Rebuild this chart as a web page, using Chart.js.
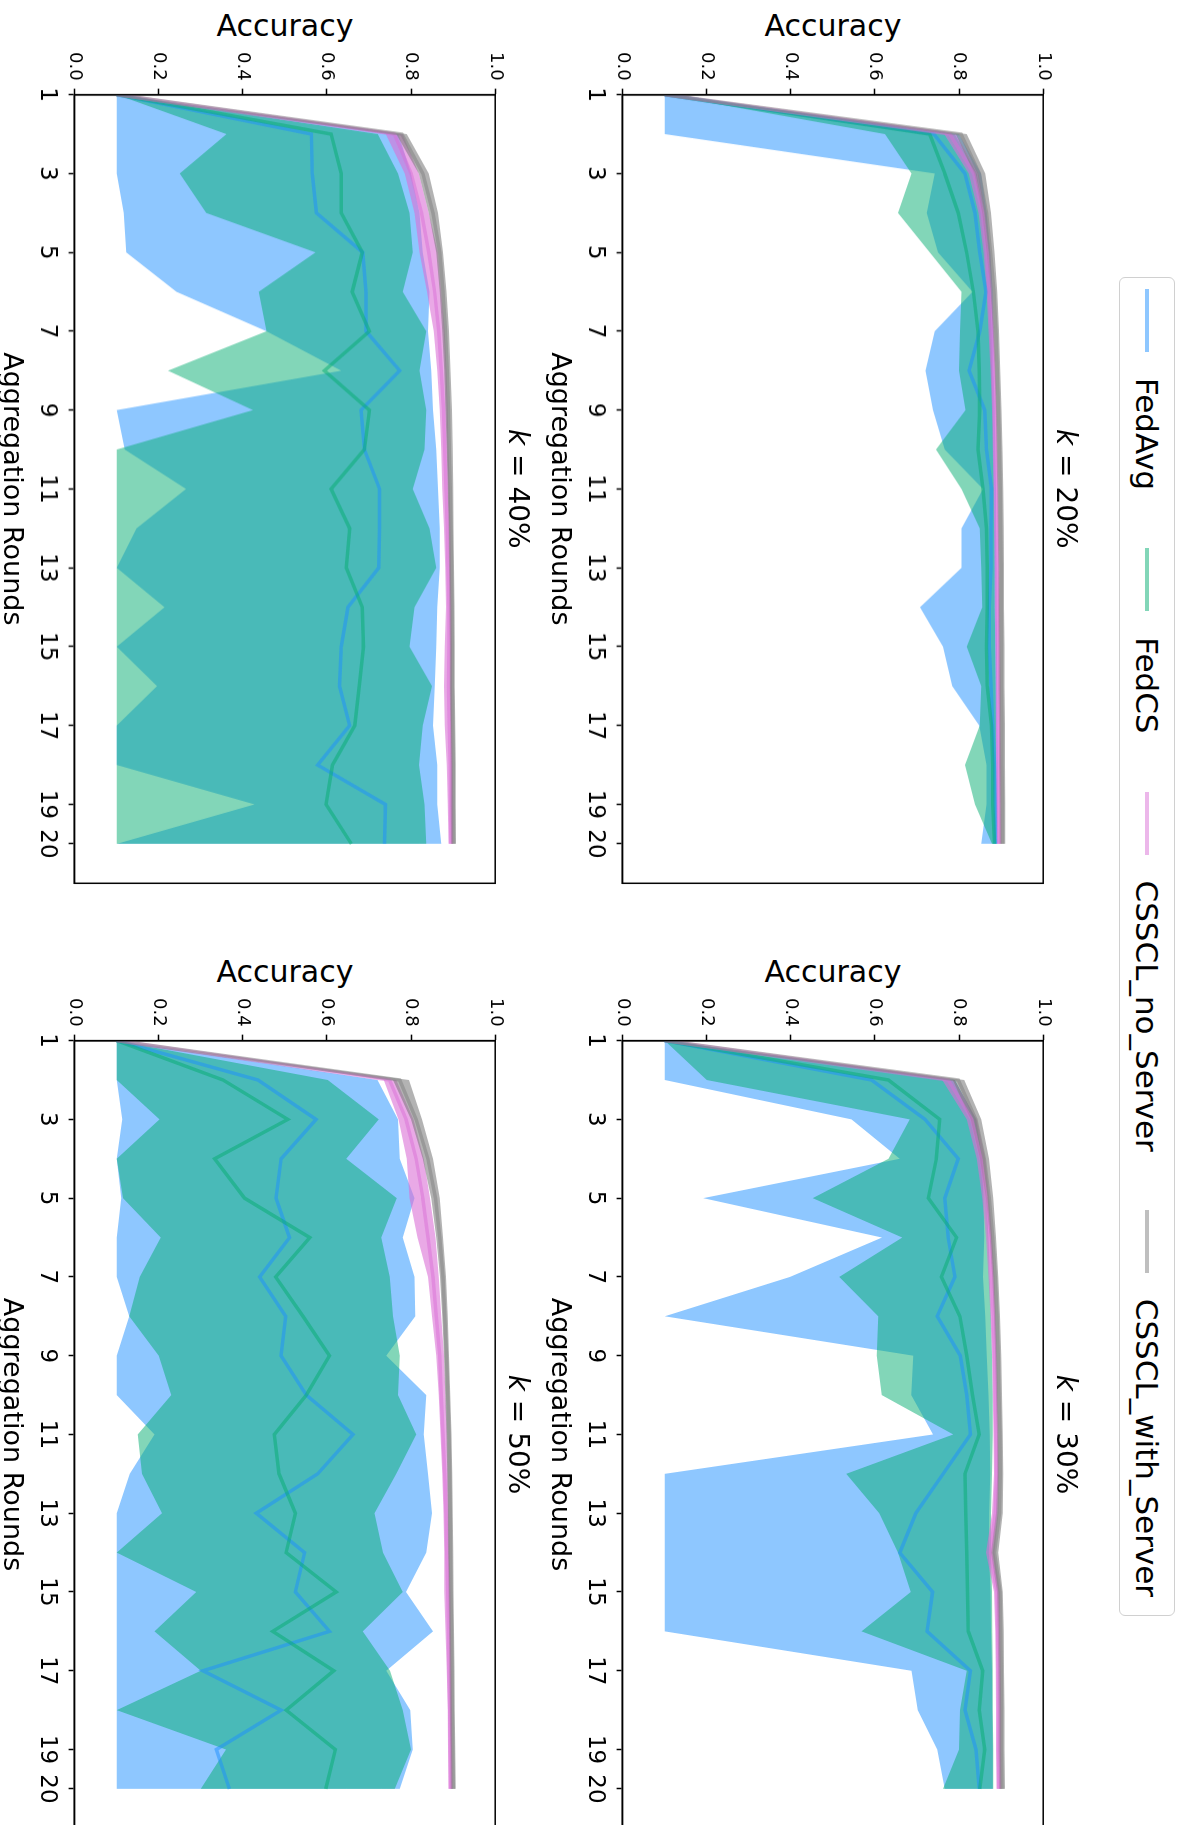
<!DOCTYPE html>
<html>
<head>
<meta charset="utf-8">
<script src="https://cdn.jsdelivr.net/npm/chart.js@4.4.1/dist/chart.umd.min.js"></script>
<style>
  html, body { margin: 0; padding: 0; background: #fff; }
  body { width: 1184px; height: 1825px; overflow: hidden; position: relative; font-family: 'DejaVu Sans', sans-serif; color: #000; }
  /* the figure is drawn landscape and turned a quarter clockwise */
  #fig { position: absolute; left: 0; top: 0; width: 1825px; height: 1184px; overflow: hidden; background: #fff;
         transform-origin: 0 0; transform: translate(1184px, 0) rotate(90deg); }
  .panel { position: absolute; }
  .txt { position: absolute; white-space: nowrap; line-height: 1; transform: translate(-50%, -50%); }
  .ylab { transform: translate(-50%, -50%) rotate(-90deg); }
  #legend { position: absolute; left: 277px; top: 9px; width: 1339px; height: 56px; box-sizing: border-box;
            border: 1.5px solid #d0d0d0; border-radius: 6px; background: rgba(255,255,255,0.8);
            display: flex; align-items: center; padding-left: 11px; font-size: 31px; }
  #legend .item { display: flex; align-items: center; margin-right: 58px; }
  #legend .sw { display: inline-block; width: 63px; height: 4px; margin-right: 26px; }
</style>
</head>
<body>
<div id="fig"><div id="legend"></div></div>
<script>
// Accuracy per aggregation round, four client ratios k.
// Each method: mean curve plus a min/max band.

const ROUNDS = [1, 2, 3, 4, 5, 6, 7, 8, 9, 10, 11, 12, 13, 14, 15, 16, 17, 18, 19, 20];
const X_TICKS = [1, 3, 5, 7, 9, 11, 13, 15, 17, 19, 20];
const Y_TICKS = [0, 0.2, 0.4, 0.6, 0.8, 1.0];
const K_LABELS = ['20%', '30%', '40%', '50%'];
const SERIES_NAMES = ['FedAvg', 'FedCS', 'CSSCL_no_Server', 'CSSCL_with_Server'];
const SERIES_RGB = ['30,144,255', '5,173,114', '218,112,214', '128,128,128'];
const BAND_ALPHA = [0.5, 0.5, 0.6, 0.6];

// k = 20%
const FEDAVG_20_MEAN = [0.100, 0.740, 0.814, 0.838, 0.849, 0.864, 0.849, 0.824, 0.861, 0.865, 0.877, 0.876, 0.876, 0.872, 0.872, 0.876, 0.880, 0.884, 0.886, 0.886];
const FEDAVG_20_LO   = [0.100, 0.100, 0.742, 0.723, 0.750, 0.832, 0.742, 0.720, 0.738, 0.766, 0.857, 0.806, 0.806, 0.707, 0.762, 0.784, 0.848, 0.865, 0.865, 0.853];
const FEDAVG_20_HI   = [0.100, 0.800, 0.852, 0.866, 0.874, 0.880, 0.882, 0.882, 0.885, 0.886, 0.888, 0.888, 0.889, 0.889, 0.890, 0.890, 0.891, 0.892, 0.892, 0.893];
const FEDCS_20_MEAN  = [0.100, 0.730, 0.766, 0.798, 0.818, 0.834, 0.845, 0.848, 0.849, 0.845, 0.857, 0.865, 0.867, 0.867, 0.865, 0.867, 0.877, 0.880, 0.880, 0.884];
const FEDCS_20_LO    = [0.100, 0.624, 0.687, 0.655, 0.730, 0.806, 0.802, 0.800, 0.815, 0.745, 0.806, 0.849, 0.853, 0.855, 0.818, 0.853, 0.849, 0.814, 0.838, 0.878];
const FEDCS_20_HI    = [0.100, 0.790, 0.842, 0.858, 0.868, 0.874, 0.877, 0.878, 0.880, 0.881, 0.883, 0.884, 0.885, 0.885, 0.886, 0.887, 0.888, 0.888, 0.889, 0.889];
const NOS_20_MEAN    = [0.100, 0.778, 0.835, 0.855, 0.866, 0.872, 0.877, 0.881, 0.884, 0.886, 0.888, 0.889, 0.890, 0.891, 0.892, 0.893, 0.893, 0.894, 0.894, 0.895];
const NOS_20_LO      = [0.100, 0.765, 0.823, 0.846, 0.858, 0.865, 0.870, 0.875, 0.878, 0.880, 0.882, 0.883, 0.884, 0.885, 0.886, 0.887, 0.887, 0.888, 0.888, 0.889];
const NOS_20_HI      = [0.100, 0.792, 0.846, 0.864, 0.874, 0.879, 0.884, 0.887, 0.890, 0.892, 0.894, 0.895, 0.896, 0.897, 0.898, 0.899, 0.899, 0.900, 0.900, 0.901];
const WS_20_MEAN     = [0.100, 0.805, 0.848, 0.865, 0.875, 0.883, 0.888, 0.891, 0.894, 0.896, 0.898, 0.899, 0.900, 0.900, 0.901, 0.901, 0.902, 0.902, 0.903, 0.903];
const WS_20_LO       = [0.100, 0.792, 0.836, 0.855, 0.866, 0.875, 0.880, 0.884, 0.887, 0.889, 0.891, 0.892, 0.893, 0.893, 0.894, 0.894, 0.895, 0.895, 0.896, 0.896];
const WS_20_HI       = [0.100, 0.818, 0.862, 0.876, 0.884, 0.891, 0.895, 0.898, 0.901, 0.903, 0.905, 0.906, 0.907, 0.907, 0.908, 0.908, 0.909, 0.909, 0.910, 0.910];

// k = 30%
const FEDAVG_30_MEAN = [0.100, 0.592, 0.719, 0.798, 0.766, 0.774, 0.790, 0.748, 0.803, 0.818, 0.827, 0.762, 0.697, 0.659, 0.737, 0.724, 0.827, 0.814, 0.840, 0.848];
const FEDAVG_30_LO   = [0.100, 0.100, 0.544, 0.659, 0.192, 0.617, 0.398, 0.100, 0.691, 0.686, 0.738, 0.100, 0.100, 0.100, 0.100, 0.100, 0.687, 0.702, 0.748, 0.766];
const FEDAVG_30_HI   = [0.100, 0.790, 0.840, 0.855, 0.858, 0.860, 0.857, 0.862, 0.866, 0.870, 0.873, 0.874, 0.872, 0.871, 0.875, 0.876, 0.878, 0.879, 0.880, 0.880];
const FEDCS_30_MEAN  = [0.100, 0.632, 0.754, 0.746, 0.727, 0.794, 0.758, 0.802, 0.818, 0.832, 0.848, 0.814, 0.816, 0.818, 0.820, 0.822, 0.856, 0.848, 0.861, 0.849];
const FEDCS_30_LO    = [0.100, 0.200, 0.683, 0.632, 0.452, 0.665, 0.515, 0.608, 0.604, 0.616, 0.786, 0.532, 0.610, 0.655, 0.685, 0.568, 0.818, 0.802, 0.800, 0.762];
const FEDCS_30_HI    = [0.100, 0.790, 0.840, 0.855, 0.865, 0.870, 0.873, 0.876, 0.878, 0.880, 0.880, 0.878, 0.876, 0.876, 0.878, 0.879, 0.880, 0.880, 0.881, 0.881];
const NOS_30_MEAN    = [0.100, 0.774, 0.830, 0.852, 0.864, 0.872, 0.877, 0.881, 0.884, 0.886, 0.888, 0.889, 0.886, 0.874, 0.890, 0.892, 0.893, 0.894, 0.894, 0.895];
const NOS_30_LO      = [0.100, 0.760, 0.818, 0.842, 0.855, 0.864, 0.870, 0.875, 0.878, 0.880, 0.882, 0.883, 0.878, 0.864, 0.883, 0.886, 0.887, 0.888, 0.888, 0.889];
const NOS_30_HI      = [0.100, 0.788, 0.842, 0.862, 0.872, 0.879, 0.884, 0.887, 0.890, 0.892, 0.894, 0.895, 0.894, 0.884, 0.897, 0.898, 0.899, 0.900, 0.900, 0.901];
const WS_30_MEAN     = [0.100, 0.798, 0.840, 0.860, 0.872, 0.880, 0.886, 0.890, 0.893, 0.895, 0.897, 0.898, 0.896, 0.884, 0.897, 0.899, 0.900, 0.901, 0.901, 0.902];
const WS_30_LO       = [0.100, 0.785, 0.828, 0.850, 0.864, 0.873, 0.879, 0.883, 0.886, 0.888, 0.890, 0.891, 0.888, 0.876, 0.890, 0.892, 0.893, 0.894, 0.894, 0.895];
const WS_30_HI       = [0.100, 0.812, 0.853, 0.871, 0.881, 0.888, 0.893, 0.897, 0.900, 0.902, 0.904, 0.905, 0.904, 0.893, 0.904, 0.906, 0.907, 0.908, 0.908, 0.909];

// k = 40%
const FEDAVG_40_MEAN = [0.100, 0.563, 0.565, 0.575, 0.685, 0.693, 0.693, 0.773, 0.681, 0.689, 0.725, 0.725, 0.723, 0.650, 0.634, 0.630, 0.654, 0.578, 0.739, 0.737];
const FEDAVG_40_LO   = [0.100, 0.100, 0.100, 0.117, 0.123, 0.242, 0.456, 0.634, 0.100, 0.119, 0.265, 0.147, 0.100, 0.214, 0.100, 0.196, 0.100, 0.100, 0.428, 0.100];
const FEDAVG_40_HI   = [0.100, 0.770, 0.800, 0.820, 0.828, 0.844, 0.840, 0.848, 0.852, 0.860, 0.864, 0.868, 0.868, 0.862, 0.860, 0.856, 0.852, 0.862, 0.862, 0.872];
const FEDCS_40_MEAN  = [0.100, 0.610, 0.634, 0.634, 0.684, 0.660, 0.701, 0.594, 0.701, 0.689, 0.610, 0.654, 0.646, 0.684, 0.687, 0.677, 0.666, 0.613, 0.598, 0.658];
const FEDCS_40_LO    = [0.100, 0.361, 0.250, 0.313, 0.573, 0.438, 0.456, 0.222, 0.424, 0.100, 0.100, 0.100, 0.100, 0.100, 0.100, 0.100, 0.100, 0.100, 0.100, 0.100];
const FEDCS_40_HI    = [0.100, 0.721, 0.769, 0.796, 0.804, 0.780, 0.836, 0.820, 0.836, 0.832, 0.804, 0.844, 0.860, 0.808, 0.796, 0.850, 0.828, 0.819, 0.832, 0.836];
const NOS_40_MEAN    = [0.100, 0.760, 0.800, 0.825, 0.842, 0.856, 0.866, 0.872, 0.877, 0.880, 0.883, 0.886, 0.888, 0.890, 0.890, 0.889, 0.891, 0.893, 0.894, 0.895];
const NOS_40_LO      = [0.100, 0.740, 0.785, 0.808, 0.820, 0.838, 0.854, 0.862, 0.868, 0.872, 0.874, 0.878, 0.881, 0.883, 0.880, 0.878, 0.880, 0.885, 0.887, 0.889];
const NOS_40_HI      = [0.100, 0.780, 0.818, 0.842, 0.864, 0.872, 0.880, 0.884, 0.887, 0.889, 0.892, 0.894, 0.895, 0.896, 0.897, 0.897, 0.898, 0.899, 0.900, 0.900];
const WS_40_MEAN     = [0.100, 0.778, 0.828, 0.852, 0.868, 0.876, 0.882, 0.886, 0.889, 0.891, 0.893, 0.895, 0.896, 0.897, 0.898, 0.898, 0.899, 0.900, 0.900, 0.901];
const WS_40_LO       = [0.100, 0.765, 0.818, 0.842, 0.860, 0.868, 0.874, 0.879, 0.882, 0.885, 0.887, 0.889, 0.890, 0.891, 0.892, 0.892, 0.893, 0.894, 0.894, 0.895];
const WS_40_HI       = [0.100, 0.790, 0.842, 0.864, 0.876, 0.884, 0.890, 0.894, 0.897, 0.899, 0.900, 0.901, 0.902, 0.903, 0.904, 0.904, 0.905, 0.906, 0.906, 0.907];

// k = 50%
const FEDAVG_50_MEAN = [0.100, 0.436, 0.574, 0.491, 0.479, 0.511, 0.440, 0.502, 0.491, 0.551, 0.662, 0.578, 0.432, 0.547, 0.525, 0.606, 0.305, 0.491, 0.337, 0.368];
const FEDAVG_50_LO   = [0.100, 0.100, 0.113, 0.100, 0.111, 0.100, 0.100, 0.130, 0.100, 0.100, 0.190, 0.131, 0.100, 0.100, 0.100, 0.100, 0.100, 0.100, 0.100, 0.100];
const FEDAVG_50_HI   = [0.100, 0.720, 0.769, 0.773, 0.808, 0.780, 0.808, 0.810, 0.741, 0.836, 0.830, 0.840, 0.850, 0.836, 0.788, 0.852, 0.741, 0.798, 0.804, 0.773];
const FEDCS_50_MEAN  = [0.100, 0.353, 0.507, 0.333, 0.404, 0.559, 0.478, 0.543, 0.606, 0.551, 0.475, 0.486, 0.525, 0.503, 0.622, 0.471, 0.616, 0.503, 0.620, 0.597];
const FEDCS_50_LO    = [0.100, 0.100, 0.202, 0.100, 0.115, 0.205, 0.155, 0.130, 0.200, 0.230, 0.150, 0.160, 0.208, 0.100, 0.289, 0.190, 0.300, 0.100, 0.360, 0.300];
const FEDCS_50_HI    = [0.100, 0.602, 0.723, 0.646, 0.766, 0.729, 0.749, 0.757, 0.773, 0.769, 0.812, 0.765, 0.713, 0.733, 0.780, 0.685, 0.750, 0.780, 0.800, 0.761];
const NOS_50_MEAN    = [0.100, 0.749, 0.788, 0.812, 0.828, 0.840, 0.852, 0.860, 0.868, 0.872, 0.876, 0.880, 0.883, 0.885, 0.887, 0.889, 0.890, 0.892, 0.893, 0.894];
const NOS_50_LO      = [0.100, 0.735, 0.770, 0.790, 0.796, 0.815, 0.840, 0.850, 0.860, 0.866, 0.870, 0.874, 0.877, 0.879, 0.879, 0.882, 0.885, 0.887, 0.888, 0.889];
const NOS_50_HI      = [0.100, 0.765, 0.806, 0.830, 0.845, 0.858, 0.866, 0.872, 0.878, 0.882, 0.886, 0.888, 0.890, 0.892, 0.894, 0.895, 0.896, 0.897, 0.898, 0.899];
const WS_50_MEAN     = [0.100, 0.773, 0.812, 0.840, 0.858, 0.868, 0.876, 0.880, 0.884, 0.887, 0.890, 0.892, 0.893, 0.894, 0.895, 0.896, 0.897, 0.898, 0.899, 0.900];
const WS_50_LO       = [0.100, 0.757, 0.800, 0.828, 0.848, 0.860, 0.869, 0.874, 0.878, 0.881, 0.884, 0.886, 0.887, 0.888, 0.889, 0.890, 0.891, 0.892, 0.893, 0.894];
const WS_50_HI       = [0.100, 0.795, 0.826, 0.852, 0.868, 0.876, 0.883, 0.887, 0.890, 0.893, 0.896, 0.898, 0.899, 0.900, 0.901, 0.902, 0.903, 0.904, 0.905, 0.906];

// [mean, lo, hi] per method, per panel
const PANEL_DATA = [
  [[FEDAVG_20_MEAN, FEDAVG_20_LO, FEDAVG_20_HI], [FEDCS_20_MEAN, FEDCS_20_LO, FEDCS_20_HI], [NOS_20_MEAN, NOS_20_LO, NOS_20_HI], [WS_20_MEAN, WS_20_LO, WS_20_HI]],
  [[FEDAVG_30_MEAN, FEDAVG_30_LO, FEDAVG_30_HI], [FEDCS_30_MEAN, FEDCS_30_LO, FEDCS_30_HI], [NOS_30_MEAN, NOS_30_LO, NOS_30_HI], [WS_30_MEAN, WS_30_LO, WS_30_HI]],
  [[FEDAVG_40_MEAN, FEDAVG_40_LO, FEDAVG_40_HI], [FEDCS_40_MEAN, FEDCS_40_LO, FEDCS_40_HI], [NOS_40_MEAN, NOS_40_LO, NOS_40_HI], [WS_40_MEAN, WS_40_LO, WS_40_HI]],
  [[FEDAVG_50_MEAN, FEDAVG_50_LO, FEDAVG_50_HI], [FEDCS_50_MEAN, FEDCS_50_LO, FEDCS_50_HI], [NOS_50_MEAN, NOS_50_LO, NOS_50_HI], [WS_50_MEAN, WS_50_LO, WS_50_HI]],
];

// plot-area boxes in the landscape figure
const AREA_W = 787.7, AREA_H = 420.6;
const AREAS = [
  { left: 95, top: 140.7 }, { left: 1040.7, top: 140.7 },
  { left: 95, top: 688.3 }, { left: 1040.7, top: 688.3 },
];

Chart.defaults.font.family = "'DejaVu Sans', sans-serif";
Chart.defaults.color = '#000';

const fig = document.getElementById('fig');

const frame = {
  id: 'frame',
  afterDatasetsDraw(chart) {
    const { ctx, chartArea: a } = chart;
    ctx.save();
    ctx.strokeStyle = '#000';
    ctx.lineWidth = 1.5;
    ctx.strokeRect(a.left, a.top, a.right - a.left, a.bottom - a.top);
    ctx.restore();
  },
};

function pts(arr) { return ROUNDS.map((r, i) => ({ x: r, y: arr[i] })); }
function rgba(rgb, a) { return `rgba(${rgb},${a})`; }

function addText(html, x, y, size, cls) {
  const d = document.createElement('div');
  d.className = 'txt' + (cls ? ' ' + cls : '');
  d.style.left = x + 'px';
  d.style.top = y + 'px';
  d.style.fontSize = size + 'px';
  d.innerHTML = html;
  fig.appendChild(d);
}

function axisOpts(ticks, fontSize, fmt) {
  return {
    afterBuildTicks: s => { s.ticks = ticks.map(v => ({ value: v })); },
    ticks: { autoSkip: false, maxRotation: 0, color: '#000', font: { size: fontSize }, padding: 8, callback: fmt },
    grid: { drawOnChartArea: false, drawTicks: true, tickLength: 6, tickWidth: 1.5, tickColor: '#000' },
    border: { display: true, color: '#000', width: 1.5 },
  };
}

function buildPanel(p) {
  const data = PANEL_DATA[p];
  const datasets = [];
  // bands first (matplotlib draws fills under all lines)
  data.forEach(([mean, lo, hi], s) => {
    datasets.push({ data: pts(lo), borderWidth: 0, borderColor: 'transparent', fill: false });
    datasets.push({ data: pts(hi), borderWidth: 0, borderColor: 'transparent', fill: '-1', backgroundColor: rgba(SERIES_RGB[s], BAND_ALPHA[s]) });
  });
  data.forEach(([mean], s) => {
    datasets.push({ data: pts(mean), borderWidth: 3.5, borderColor: rgba(SERIES_RGB[s], 0.5), fill: false });
  });
  datasets.forEach((d, i) => { d.order = datasets.length - i; d.pointRadius = 0; d.tension = 0; });

  const wrap = document.createElement('div');
  wrap.className = 'panel';
  const canvas = document.createElement('canvas');
  canvas.width = 900; canvas.height = 520;
  wrap.appendChild(canvas);
  fig.appendChild(wrap);

  const chart = new Chart(canvas, {
    type: 'line',
    data: { datasets },
    options: {
      responsive: false, maintainAspectRatio: false, animation: false, devicePixelRatio: 1,
      layout: { padding: { top: 14, right: 14 } },
      plugins: { legend: { display: false }, tooltip: { enabled: false } },
      scales: {
        x: Object.assign({ type: 'linear', min: 1, max: 21 }, axisOpts(X_TICKS, 23, v => String(v))),
        y: Object.assign({ type: 'linear', min: 0, max: 1 }, axisOpts(Y_TICKS, 18, v => v.toFixed(1))),
      },
    },
    plugins: [frame],
  });

  // size the canvas so the plot area matches, then put it in place
  const ca = chart.chartArea;
  chart.resize(chart.width + AREA_W - (ca.right - ca.left), chart.height + AREA_H - (ca.bottom - ca.top));
  const cb = chart.chartArea;
  const box = AREAS[p];
  wrap.style.left = (box.left - cb.left) + 'px';
  wrap.style.top = (box.top - cb.top) + 'px';

  const cx = box.left + AREA_W / 2;
  addText(`<i>k</i> = ${K_LABELS[p]}`, cx, box.top - 22.7, 28);
  addText('Aggregation Rounds', cx, box.top + AREA_H + 61, 27);
  addText('Accuracy', box.left - 69, box.top + AREA_H / 2, 30, 'ylab');
}

for (let p = 0; p < 4; p++) buildPanel(p);

// legend across the top of the figure
const legend = document.getElementById('legend');
SERIES_NAMES.forEach((name, s) => {
  const it = document.createElement('div');
  it.className = 'item';
  it.innerHTML = `<span class="sw" style="background:${rgba(SERIES_RGB[s], 0.5)}"></span><span>${name}</span>`;
  legend.appendChild(it);
});
</script>
</body>
</html>
